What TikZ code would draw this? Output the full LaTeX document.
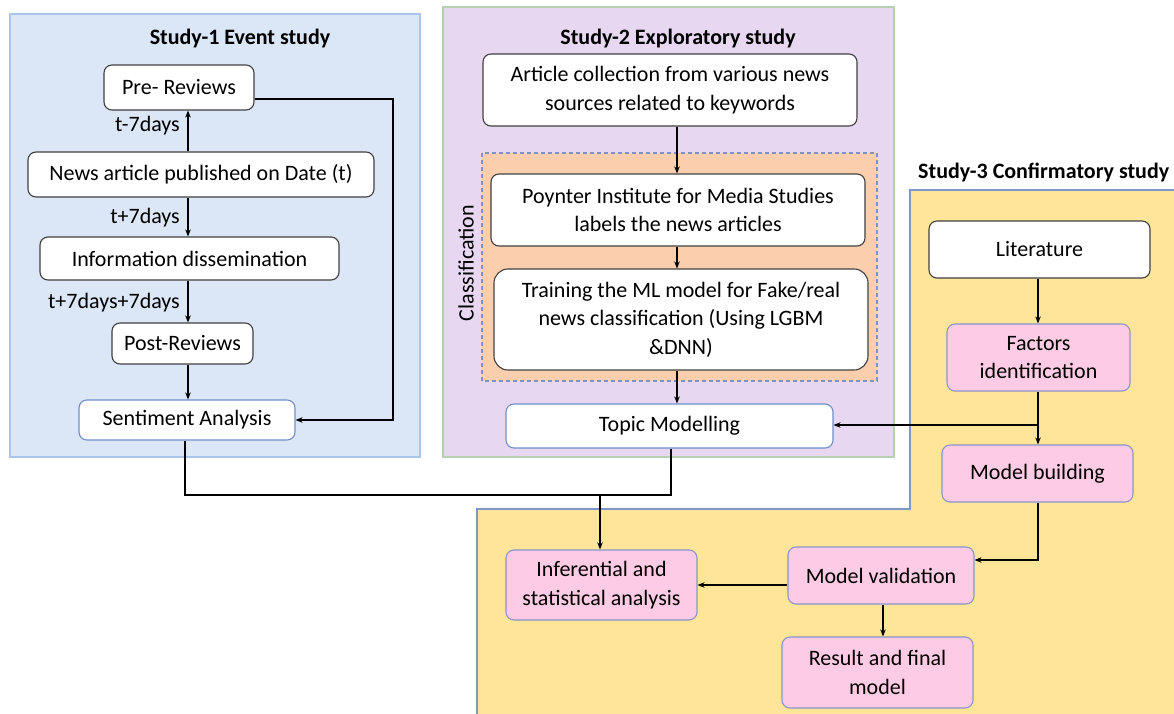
\documentclass[tikz,border=0pt]{standalone}
\usepackage{fontspec}
\setmainfont{Carlito}
\usetikzlibrary{arrows.meta}
\definecolor{bluefill}{HTML}{DBE7F6}
\definecolor{blueedge}{HTML}{A9C5EC}
\definecolor{lavfill}{HTML}{E8D7F1}
\definecolor{lavedge}{HTML}{B7CFAE}
\definecolor{orafill}{HTML}{FBCFAE}
\definecolor{dashedge}{HTML}{7F92C8}
\definecolor{yelfill}{HTML}{FFE599}
\definecolor{yeledge}{HTML}{7F97CB}
\definecolor{pinkfill}{HTML}{FDCCE4}
\definecolor{pinkedge}{HTML}{8A95C8}
\definecolor{boxedge}{HTML}{404040}
\definecolor{nodeblue}{HTML}{6F8FC8}
\newcommand\fsz{\fontsize{22}{28.5}\selectfont}
\begin{document}
\begin{tikzpicture}[x=1pt,y=-1pt,
  wbox/.style={draw=boxedge, line width=1.1pt, rounded corners=8pt, fill=white, align=center, font=\fsz, inner sep=2pt},
  bbox/.style={wbox, draw=nodeblue},
  pbox/.style={wbox, fill=pinkfill, draw=pinkedge},
  arr/.style={-{Stealth[length=7pt,width=5.5pt]}, line width=1.4pt},
  ln/.style={line width=1.4pt},
  lbl/.style={font=\fsz, anchor=east, inner sep=0pt},
  ttl/.style={font=\fsz\bfseries, inner sep=0pt}]
\useasboundingbox (0,0) rectangle (1174,714);
\fill[white] (0,0) rectangle (1174,714);
% panels
\draw[fill=bluefill, draw=blueedge, line width=1.2pt] (10,14) rectangle (420,457);
\draw[fill=lavfill, draw=lavedge, line width=1.2pt] (443,7) rectangle (894,457);
\fill[yelfill] (1180,190) -- (910,190) -- (910,509) -- (477,509) -- (477,720) -- (1180,720) -- cycle;
\draw[draw=yeledge, line width=1.2pt] (1180,190) -- (910,190) -- (910,509) -- (477,509) -- (477,720);
\draw[fill=orafill, draw=dashedge, dash pattern=on 4pt off 3pt, line width=1.1pt] (482,153) rectangle (877,381);
% titles
\node[ttl] (t1) at (240,39) {Study-1 Event study};
\node[ttl] (t2) at (678,39) {Study-2 Exploratory study};
\node[ttl, anchor=west] (t3) at (918,172) {Study-3 Confirmatory study};
\node[font=\fsz, rotate=90, inner sep=0pt] (cls) at (466,263) {Classification};
% study 1
\node[wbox, minimum width=150, minimum height=45] (pre) at (179,87.5) {Pre- Reviews};
\node[wbox, minimum width=346, minimum height=45] (news) at (201,174.5) {News article published on Date (t)};
\node[wbox, minimum width=299, minimum height=43] (info) at (189.5,258.5) {Information dissemination};
\node[wbox, minimum width=141, minimum height=41] (post) at (182.5,343.5) {Post-Reviews};
\node[bbox, minimum width=216, minimum height=40] (sent) at (187,420) {Sentiment Analysis};
\coordinate (c1) at (188,0);
\draw[arr] (news.north -| c1) -- (pre.south -| c1);
\draw[arr] (news.south -| c1) -- (info.north -| c1);
\draw[arr] (info.south -| c1) -- (post.north -| c1);
\draw[arr] (post.south -| c1) -- (sent.north -| c1);
\node[lbl] (l1) at (180,126) {t-7days};
\node[lbl] (l2) at (180,218) {t+7days};
\node[lbl] (l3) at (180,303) {t+7days+7days};
\coordinate (r1) at (393,99);
\draw[arr] (pre.east |- r1) -- (r1) -- (r1 |- sent.east) -- (sent.east);
% study 2
\node[wbox, minimum width=374, minimum height=72] (art) at (670,90) {Article collection from various news\\sources related to keywords};
\node[wbox, minimum width=374, minimum height=72] (poy) at (678,210) {Poynter Institute for Media Studies\\labels the news articles};
\node[wbox, rounded corners=14pt, minimum width=374, minimum height=101] (train) at (681,319.5) {Training the ML model for Fake/real\\news classification (Using LGBM\\\&DNN)};
\node[bbox, minimum width=327, minimum height=44] (topic) at (669.5,426) {Topic Modelling};
\coordinate (c2) at (677,0);
\draw[arr] (art.south -| c2) -- (poy.north -| c2);
\draw[arr] (poy.south -| c2) -- (train.north -| c2);
\draw[arr] (train.south -| c2) -- (topic.north -| c2);
% study 3
\node[wbox, minimum width=221, minimum height=57] (lit) at (1039.5,249.5) {Literature};
\node[pbox, minimum width=183, minimum height=67] (fac) at (1038.5,357.5) {Factors\\identification};
\node[pbox, minimum width=191, minimum height=57] (mb) at (1037.5,473.5) {Model building};
\node[pbox, minimum width=186, minimum height=57] (mv) at (881,575.5) {Model validation};
\node[pbox, minimum width=191, minimum height=70] (inf) at (601.5,585) {Inferential and\\statistical analysis};
\node[pbox, minimum width=191, minimum height=71] (res) at (877.5,672.5) {Result and final\\model};
\coordinate (c3) at (1038,0);
\draw[arr] (lit.south -| c3) -- (fac.north -| c3);
\draw[arr] (fac.south -| c3) -- (mb.north -| c3);
\coordinate (j1) at (1038,425);
\draw[arr] (j1) -- (topic.east |- j1);
\coordinate (r2) at (1038,560);
\draw[arr] (mb.south -| r2) -- (r2) -- (mv.east |- r2);
\coordinate (r3) at (0,585);
\draw[arr] (mv.west |- r3) -- (inf.east |- r3);
\coordinate (c4) at (883,0);
\draw[arr] (mv.south -| c4) -- (res.north -| c4);
% bottom join
\coordinate (b1) at (185,495);
\coordinate (b2) at (671,495);
\coordinate (j2) at (600,495);
\draw[ln] (sent.south -| b1) -- (b1) -- (b2) -- (topic.south -| b2);
\draw[arr] (j2) -- (inf.north -| j2);
\end{tikzpicture}
\end{document}
